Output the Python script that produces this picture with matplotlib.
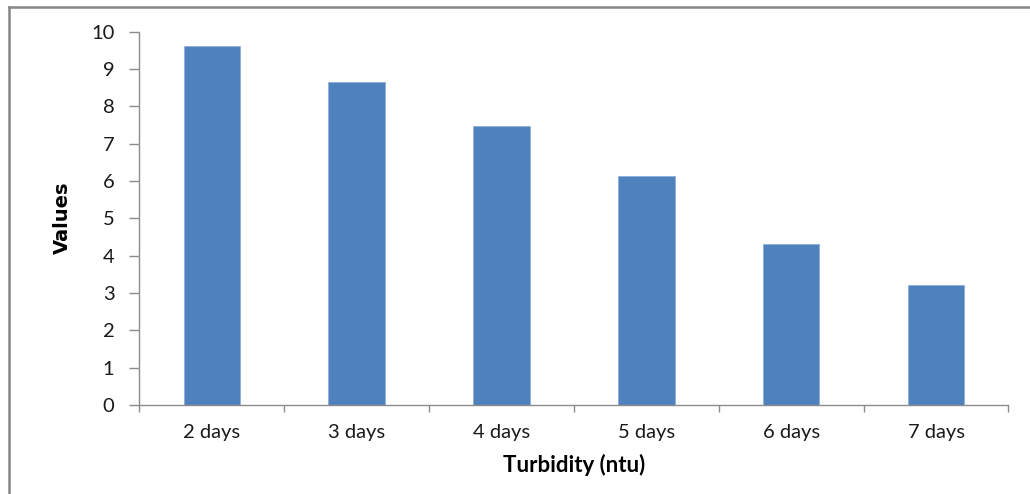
import numpy as np
import matplotlib.pyplot as plt
from matplotlib.lines import Line2D

# turbidity readings over storage time
days = ['2 days', '3 days', '4 days', '5 days', '6 days', '7 days']
turbidity = [9.6, 8.65, 7.47, 6.13, 4.3, 3.2]

plt.rcParams['font.family'] = ['Lato', 'DejaVu Sans']

fig = plt.figure(figsize=(10.3, 4.94), dpi=100)
ax = fig.add_axes([0.1354, 0.1802, 0.8437, 0.756])

x = np.arange(len(days))
ax.bar(x, turbidity, width=0.39, color='#4F81BD', edgecolor='#8EAEDA', linewidth=0.6)

ax.set_xlim(-0.5, len(days) - 0.5)
ax.set_ylim(0, 10)
ax.set_yticks(range(0, 11))

# category labels at bar centres, tick marks between categories
ax.set_xticks(x)
ax.set_xticklabels(days, fontsize=14.5, color='#1a1a1a')
ax.set_xticks(np.arange(-0.5, len(days)), minor=True)
ax.tick_params(axis='x', which='major', length=0, pad=14)
ax.tick_params(axis='x', which='minor', length=5, width=1, color='#8c8c8c')
ax.tick_params(axis='y', length=7, width=1, color='#8c8c8c', pad=11,
               labelsize=14.5, labelcolor='#1a1a1a')

for s in ['top', 'right']:
    ax.spines[s].set_visible(False)
for s in ['left', 'bottom']:
    ax.spines[s].set_color('#8c8c8c')
    ax.spines[s].set_linewidth(1)

ax.set_xlabel('Turbidity (ntu)', fontsize=16, fontweight='bold')
ax.xaxis.set_label_coords(0.5, -0.13)
ax.set_ylabel('Values', fontsize=14, fontweight='bold',
              family=['Liberation Sans Narrow', 'DejaVu Sans'])
ax.yaxis.set_label_coords(-0.078, 0.5)

# outer chart border
fig.add_artist(Line2D([8.5 / 1030, 8.5 / 1030], [0, 1 - 7.5 / 494],
                      transform=fig.transFigure, color='#868686', linewidth=1.8))
fig.add_artist(Line2D([8.5 / 1030, 1], [1 - 7.5 / 494, 1 - 7.5 / 494],
                      transform=fig.transFigure, color='#868686', linewidth=1.8))

fig.savefig('out.png', dpi=100)
